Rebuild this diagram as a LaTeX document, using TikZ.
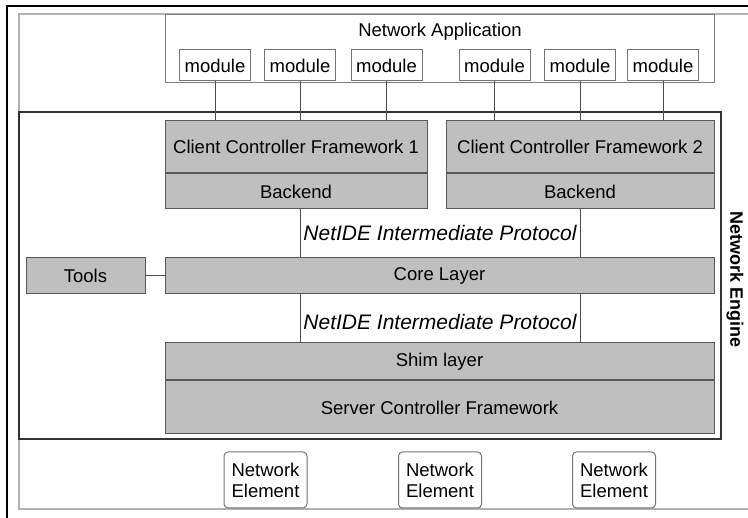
\documentclass[tikz,border=0pt]{standalone}
\usepackage{fontspec}
\setmainfont{Liberation Sans}
\usetikzlibrary{positioning}
\tikzset{
layer/.style={draw=black!65,fill=black!25,inner sep=0pt,line width=1pt,font=\fontsize{18.5}{20}\selectfont},
module/.style={draw=black!55,fill=white,minimum width=71pt,minimum height=31pt,inner sep=0pt,line width=1pt,font=\fontsize{18.5}{20}\selectfont},
element/.style={draw=black!55,fill=white,rounded corners=4pt,align=center,minimum width=83pt,minimum height=56pt,inner sep=0pt,line width=1pt,font=\fontsize{18.5}{21}\selectfont},
link/.style={draw=black!70,line width=1pt},
proto/.style={font=\fontsize{21}{23}\selectfont\itshape}
}
\begin{document}
\begin{tikzpicture}[x=1pt,y=-1pt]
\useasboundingbox (0,0) rectangle (748,518);

% page frame
\draw[black,line width=2.5pt] (7,518) -- (7,6) -- (748,6);
\draw[black!30,line width=1.5pt] (748,14) -- (19,14) -- (19,509) -- (748,509);

% application
\node[draw=black!50,line width=1pt,minimum width=549pt,minimum height=68pt,inner sep=0pt] (app) at (439.5,49) {};
\node[font=\fontsize{18.5}{20}\selectfont] (apptitle) at (440,32) {Network Application};
\node[module] (m1) at (215,65.5) {module};
\node[module] (m2) at (300,65.5) {module};
\node[module] (m3) at (386.5,65.5) {module};
\node[module] (m4) at (494.5,65.5) {module};
\node[module] (m5) at (580,65.5) {module};
\node[module] (m6) at (663,65.5) {module};

% engine
\node[draw=black!80,line width=2.5pt,minimum width=702pt,minimum height=327pt,inner sep=0pt] (engine) at (370,275.5) {};
\node[rotate=-90,font=\fontsize{18}{20}\selectfont\bfseries] (enginelabel) at (735,280) {Network Engine};

\node[layer,minimum width=262pt,minimum height=52pt] (ccf1) at (296,147) {Client Controller Framework 1};
\node[layer,minimum width=262pt,minimum height=35pt,below=0pt of ccf1] (be1) {Backend};
\node[layer,minimum width=268pt,minimum height=52pt] (ccf2) at (580,147) {Client Controller Framework 2};
\node[layer,minimum width=268pt,minimum height=35pt,below=0pt of ccf2] (be2) {Backend};

\node[layer,minimum width=549pt,minimum height=36pt] (core) at (439.5,276) {Core Layer};
\node[layer,minimum width=119pt,minimum height=36pt] (tools) at (85.5,276) {Tools};

\node[layer,minimum width=549pt,minimum height=37pt] (shim) at (439.5,361.5) {Shim layer};
\node[layer,minimum width=549pt,minimum height=53pt,below=0pt of shim] (server) {Server Controller Framework};

\node[proto] (proto1) at (440,233) {NetIDE Intermediate Protocol};
\node[proto] (proto2) at (440,322) {NetIDE Intermediate Protocol};

% network elements
\node[element] (ne1) at (265.5,480) {Network\\Element};
\node[element] (ne2) at (440,480) {Network\\Element};
\node[element] (ne3) at (614,480) {Network\\Element};

% connectors
\foreach \m in {m1,m2,m3} \draw[link] (\m) -- (\m |- ccf1.north);
\foreach \m in {m4,m5,m6} \draw[link] (\m) -- (\m |- ccf2.north);
\draw[link] (m2 |- be1.south) -- (m2 |- core.north);
\draw[link] (m5 |- be2.south) -- (m5 |- core.north);
\draw[link] (m2 |- core.south) -- (m2 |- shim.north);
\draw[link] (m5 |- core.south) -- (m5 |- shim.north);
\draw[link] (tools) -- (core);

\end{tikzpicture}
\end{document}
